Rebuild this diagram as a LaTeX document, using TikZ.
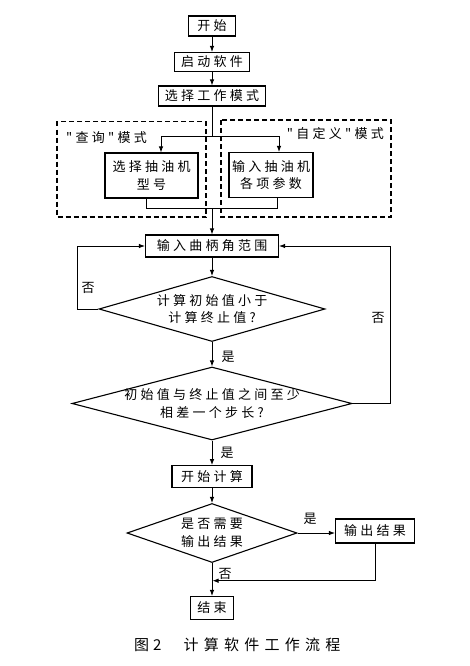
\documentclass[tikz,border=0pt]{standalone}
\usepackage{fontspec}
\setmainfont{Noto Sans CJK SC}[LetterSpace=25]
\newfontfamily\qfont{Noto Sans CJK SC}[LetterSpace=25]
\newfontfamily\capfont{Noto Sans CJK SC}
\newfontfamily\capsp{Noto Sans CJK SC}[LetterSpace=35]
\usetikzlibrary{shapes.geometric,arrows.meta}
\newcommand{\txt}{\fontsize{13pt}{17.5pt}\selectfont}
\newcommand{\captxt}{\fontsize{15pt}{18pt}\selectfont}

\begin{document}
\begin{tikzpicture}[x=1pt,y=-1pt,
  box/.style={draw,line width=1.1pt,inner sep=0pt,font=\txt,align=center},
  dia/.style={draw,diamond,line width=1.1pt,inner sep=0pt,font=\txt,align=center},
  arr/.style={line width=0.9pt,-{Latex[length=6pt,width=4.5pt]}},
  ln/.style={line width=0.9pt},
  lab/.style={font=\txt,inner sep=0pt},
  grp/.style={line width=1.1pt,dash pattern=on 5pt off 3pt}]
  \useasboundingbox (0,0) rectangle (469,666);
  \node[box,minimum width=47,minimum height=20] (start) at (212,26) {开始};
  \node[box,minimum width=75,minimum height=19] (boot) at (212,62) {启动软件};
  \node[box,minimum width=107,minimum height=20] (mode) at (212,96) {选择工作模式};
  \draw[grp] (57,121.5) rectangle (206,217);
  \draw[grp] (221,120) rectangle (391,217);
  \node[lab,anchor=west] (qm) at (66,138) {\qfont "查询"模式};
  \node[lab,anchor=east] (cm) at (384,134) {\qfont "自定义"模式};
  \node[box,minimum width=93,minimum height=45] (query) at (151.5,175.5) {选择抽油机\\型号};
  \node[box,minimum width=84,minimum height=45] (custom) at (271,175) {输入抽油机\\各项参数};
  \node[box,minimum width=133,minimum height=22] (range) at (212,246) {输入曲柄角范围};
  \node[dia,minimum width=226,minimum height=65,aspect=3.48] (chk1) at (212,309) {计算初始值小于\\计算终止值?};
  \node[dia,minimum width=280,minimum height=73,aspect=3.84,inner sep=-10pt] (chk2) at (212,403.5) {初始值与终止值之间至少\\相差一个步长?};
  \node[box,minimum width=80,minimum height=22] (calc) at (212,476.7) {开始计算};
  \node[dia,minimum width=170,minimum height=59,aspect=2.88] (chk3) at (212,533) {是否需要\\输出结果};
  \node[box,minimum width=79,minimum height=24] (out) at (375,531) {输出结果};
  \node[box,minimum width=43,minimum height=23] (end) at (212,608) {结束};
  \coordinate (s) at (212,136.7);
  \coordinate (m) at (212,208.3);
  \coordinate (j) at (212.5,580.7);
  \draw[arr] (start) -- (boot);
  \draw[arr] (boot) -- (mode);
  \draw[ln] (mode) -- (s);
  \draw[arr] (s) -| ([xshift=9.5pt]query.north);
  \draw[arr] (s) -| ([xshift=8pt]custom.north);
  \draw[ln] ([xshift=-5.5pt]query.south) |- (m) -| ([xshift=6pt]custom.south);
  \draw[arr] (m) -- (range);
  \draw[arr] (range) -- (chk1);
  \draw[arr] (chk1) -- (chk2);
  \draw[arr] (chk1.west) -- ++(-21.3,0) |- (range.west);
  \draw[arr] (chk2.east) -- ++(38,0) |- (range.east);
  \draw[arr] (chk2) -- (calc);
  \draw[arr] (calc) -- (chk3);
  \draw[arr] (chk3.east) -- (chk3.east -| out.west);
  \draw[arr] (chk3) -- (end);
  \draw[arr] (out.south) |- (j);
  \node[lab] (n1) at (88,288) {否};
  \node[lab] (y1) at (228,357) {是};
  \node[lab] (n2) at (378,318) {否};
  \node[lab] (y2) at (227,453) {是};
  \node[lab] (y3) at (310,519) {是};
  \node[lab] (n3) at (225,574) {否};
  \node[anchor=west,inner sep=0pt,font=\captxt] (cap) at (134,645) {\capfont 图\hspace{4pt}2\hspace{22pt}\capsp 计算软件工作流程};
\end{tikzpicture}
\end{document}
